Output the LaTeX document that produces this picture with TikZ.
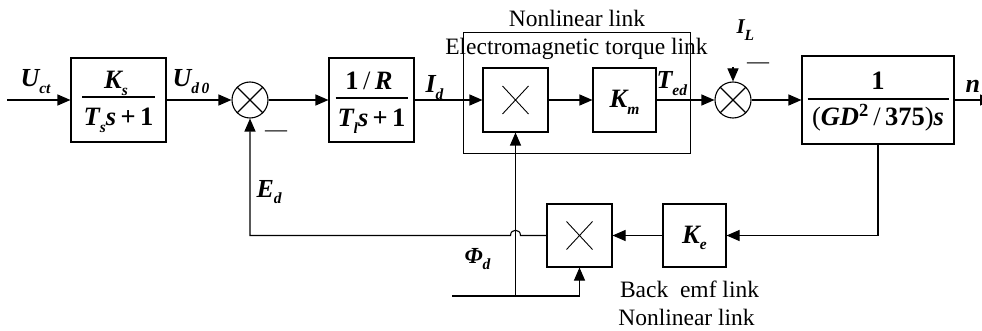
\documentclass[tikz,border=0pt]{standalone}
\usepackage{fontspec}
\setmainfont{Liberation Serif}
\usetikzlibrary{arrows.meta,calc}
\newcommand{\bi}[1]{{\bfseries\itshape #1}}
\newcommand{\lbsub}[1]{\raisebox{-6.5pt}{\fontsize{15.5}{15.5}\selectfont\bfseries\itshape #1}}
\begin{document}
\begin{tikzpicture}[x=1pt,y=-1pt, line width=1.1pt,
  >={Triangle[length=13pt,width=11pt]},
  blk/.style={draw, inner sep=0, line width=1.1pt},
  sumc/.style={draw, circle, minimum size=36pt, inner sep=0},
  lbl/.style={font=\fontsize{26}{26}\selectfont\bfseries\itshape, inner sep=0, anchor=base west},
  frac/.style={font=\fontsize{26.5}{26.5}\selectfont, inner sep=0, anchor=base},
  txt/.style={font=\fontsize{23.5}{26}\selectfont, inner sep=0, anchor=base},
  minus/.style={font=\fontsize{22}{22}\selectfont, inner sep=0},
]
\useasboundingbox (0,0) rectangle (982,331);
% blocks
\node[blk, minimum width=95pt, minimum height=84pt] (b1) at (118.5,100) {};
\node[sumc] (s1) at (250,100) {};
\node[blk, minimum width=85pt, minimum height=84pt] (b2) at (371.5,100) {};
\node[blk, line width=1pt, minimum width=227pt, minimum height=121pt] (big) at (576.5,93.5) {};
\node[blk, minimum width=65pt, minimum height=64pt] (m1) at (515.5,100) {};
\node[blk, minimum width=63pt, minimum height=64pt] (km) at (624.5,100) {};
\node[sumc] (s2) at (733,100) {};
\node[blk, minimum width=152pt, minimum height=88pt] (gd) at (878,100) {};
\node[blk, minimum width=65pt, minimum height=63pt] (m2) at (579.5,235.5) {};
\node[blk, minimum width=63pt, minimum height=63pt] (ke) at (694.5,235.5) {};
% crosses
\draw (s1.north east) -- (s1.south west) (s1.north west) -- (s1.south east);
\draw (s2.north east) -- (s2.south west) (s2.north west) -- (s2.south east);
\draw[line width=0.9pt] ($(m1.center)+(-13,-14)$) -- ($(m1.center)+(13,14)$)
      ($(m1.center)+(-13,14)$) -- ($(m1.center)+(13,-14)$);
\draw[line width=0.9pt] ($(m2.center)+(-13,-14)$) -- ($(m2.center)+(13,14)$)
      ($(m2.center)+(-13,14)$) -- ($(m2.center)+(13,-14)$);
% block contents
\node[frac] (b1n) at (116,89) {\bi{K}\lbsub{s}};
\draw ($(b1.center)+(-36.5,-3)$) -- ($(b1.center)+(36.5,-3)$);
\node[frac] (b1d) at (118.5,126) {\bi{T}\lbsub{s}\bi{s}\,\textbf{+}\,\textbf{1}};
\node[frac] (b2n) at (369,90) {\textbf{1}\,/\,\bi{R}};
\draw ($(b2.center)+(-36,-2)$) -- ($(b2.center)+(36,-2)$);
\node[frac] (b2d) at (371.5,127) {\bi{T}\lbsub{l}\bi{s}\,\textbf{+}\,\textbf{1}};
\node[frac] (kmt) at (624.5,108) {\bi{K}\lbsub{m}};
\node[frac] (ket) at (694.5,243) {\bi{K}\lbsub{e}};
\node[frac] (gdn) at (878,90) {\textbf{1}};
\draw ($(gd.center)+(-70.5,-1)$) -- ($(gd.center)+(70.5,-1)$);
\node[frac] (gdd) at (878,126) {(\bi{GD}\textsuperscript{\textbf{2}}\,/\,\textbf{375})\bi{s}};
% forward path
\coordinate (in) at (7,100);
\coordinate (out) at (993,100);
\coordinate (il) at (733,67);
\draw[->] (in) -- (b1.west);
\draw[->] (b1.east) -- (s1.west);
\draw[->] (s1.east) -- (b2.west);
\draw[->] (b2.east) -- (m1.west);
\draw[->] (m1.east) -- (km.west);
\draw[->] (km.east) -- (s2.west);
\draw[->] (s2.east) -- (gd.west);
\draw[->] (gd.east) -- (out);
\draw[->] (il) -- (s2.north);
% feedback path
\coordinate (fbl) at (s1.south |- m2.west);
\coordinate (hop) at (m1.south |- m2.west);
\draw[->] (gd.south) |- (ke.east);
\draw[->] (ke.west) -- (m2.east);
\draw[->] (m2.west) -- ($(hop)+(5,0)$) .. controls ($(hop)+(5,-7)$) and ($(hop)+(-5,-7)$) .. ($(hop)+(-5,0)$) -- (fbl) -- (s1.south);
% flux input
\coordinate (phin) at (452,296);
\coordinate (jn) at (m1.south |- phin);
\draw (phin) -- (jn);
\draw[->] (jn) -- (m1.south);
\draw[->] (jn) -| (m2.south);
% labels
\node[lbl] (uct) at (20,87) {U\lbsub{ct}};
\node[lbl] (ud0) at (172,87) {U\lbsub{d\,0}};
\node[lbl] (id) at (425,93) {I\lbsub{d}};
\node[lbl] (ted) at (656,89) {T\lbsub{ed}};
\node[lbl] (nout) at (965,93) {n};
\node[lbl, font=\fontsize{21}{21}\selectfont\bfseries\itshape] (ilt) at (736,34) {I\lbsub{L}};
\node[lbl, font=\fontsize{26}{26}\selectfont\bfseries\itshape] (edt) at (256,197) {E\lbsub{d}};
\node[lbl, font=\fontsize{23}{23}\selectfont\bfseries\itshape] (phit) at (464,263) {Φ\lbsub{d}};
\node[minus] (mn1) at (276,134) {—};
\node[minus] (mn2) at (758,66) {—};
% texts
\node[txt] (t1) at (577,27) {Nonlinear link};
\node[txt] (t2) at (576.5,55) {Electromagnetic torque link};
\node[txt] (t3) at (689.5,297) {Back~~emf link};
\node[txt] (t4) at (686.5,325) {Nonlinear link};
\end{tikzpicture}
\end{document}
